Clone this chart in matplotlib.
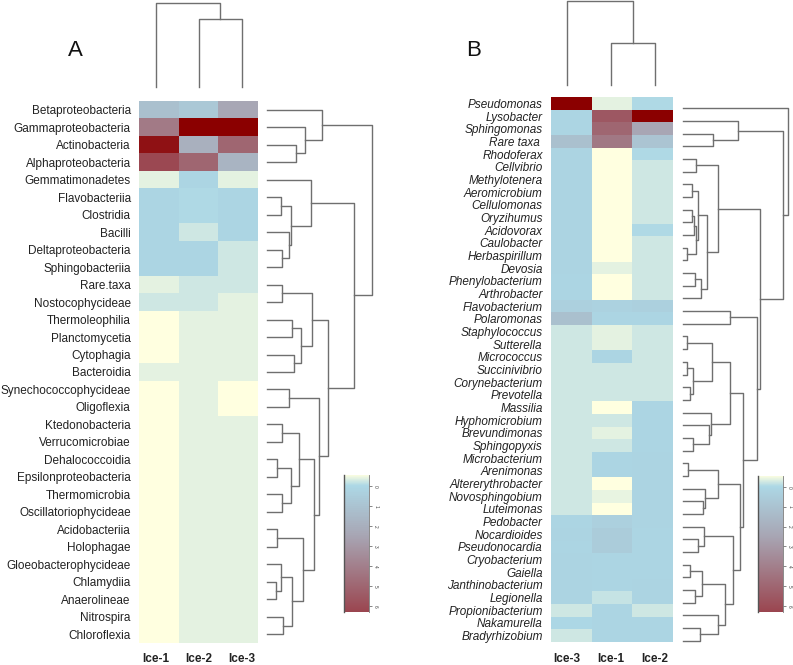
import matplotlib
matplotlib.use('Agg')
import matplotlib.pyplot as plt
import numpy as np
from matplotlib.colors import LinearSegmentedColormap, Normalize
from matplotlib.transforms import blended_transform_factory

plt.rcParams['font.family'] = ['Liberation Sans', 'DejaVu Sans']

W, H = 793, 665
fig = plt.figure(figsize=(W / 100, H / 100), dpi=100)
fig.patch.set_facecolor('white')

LINE_CLR = '#6f6f6f'

# ── Colour scale ────────────────────────────────────────────────
cmap_vals = [-0.55, 0.0, 2.5, 6.3, 7.0]
cmap_cols = ['#FFFFE0', '#ADD8E6', '#A8A6B4', '#9B4650', '#8B0000']
VMIN, VMAX = cmap_vals[0], cmap_vals[-1]
cmap = LinearSegmentedColormap.from_list(
    'ice', [((v - VMIN) / (VMAX - VMIN), c) for v, c in zip(cmap_vals, cmap_cols)])
norm = Normalize(VMIN, VMAX)

# ── Panel A data ────────────────────────────────────────────────
a_cols = ['Ice-1', 'Ice-2', 'Ice-3']
a_rows = ['Betaproteobacteria', 'Gammaproteobacteria', 'Actinobacteria', 'Alphaproteobacteria',
          'Gemmatimonadetes', 'Flavobacteriia', 'Clostridia', 'Bacilli', 'Deltaproteobacteria',
          'Sphingobacteriia', 'Rare.taxa', 'Nostocophycideae', 'Thermoleophilia', 'Planctomycetia',
          'Cytophagia', 'Bacteroidia', 'Synechococcophycideae', 'Oligoflexia', 'Ktedonobacteria',
          'Verrucomicrobiae', 'Dehalococcoidia', 'Epsilonproteobacteria', 'Thermomicrobia',
          'Oscillatoriophycideae', 'Acidobacteriia', 'Holophagae', 'Gloeobacterophycideae',
          'Chlamydiia', 'Anaerolineae', 'Nitrospira', 'Chloroflexia']
a_ice1 = [1.2, 4.2, 6.8, 6.2, -0.37, 0.1, 0.1, 0.1, 0.1, 0.1, -0.37, -0.21, -0.55, -0.55, -0.55,
          -0.37, -0.55, -0.55, -0.55, -0.55, -0.55, -0.55, -0.55, -0.55, -0.55, -0.55, -0.55,
          -0.55, -0.55, -0.55, -0.55]
a_ice2 = [0.8, 7.0, 2.0, 5.0, 0.1, 0.0, 0.0, -0.21, 0.1, 0.1, -0.21, -0.21, -0.37, -0.37, -0.37,
          -0.37, -0.37, -0.37, -0.37, -0.37, -0.37, -0.37, -0.37, -0.37, -0.37, -0.37, -0.37,
          -0.37, -0.37, -0.37, -0.37]
a_ice3 = [2.4, 7.0, 5.0, 1.8, -0.37, 0.1, 0.1, 0.1, -0.21, -0.21, -0.21, -0.37, -0.37, -0.37, -0.37,
          -0.37, -0.55, -0.55, -0.37, -0.37, -0.37, -0.37, -0.37, -0.37, -0.37, -0.37, -0.37,
          -0.37, -0.37, -0.37, -0.37]

# trees: (left, right, height) ; leaves are row / column indices
a_col_tree = (0, (1, 2, 68), 84)
a_row_tree = ((0, (1, (2, 3, 29), 38), 55),
              ((4, ((5, 6, 14), (7, (8, 9, 15), 22), 24), 44),
               (((10, 11, 15), ((12, 13, 25), (14, 15, 27), 34), 45),
                ((16, 17, 22),
                 (((18, 19, 15), ((20, 21, 10), (22, 23, 15), 24), 32),
                  ((24, 25, 10), ((26, (27, 28, 9), 14), (29, 30, 16), 25), 36), 47), 52), 61), 87),
              105)

# ── Panel B data ────────────────────────────────────────────────
b_cols = ['Ice-3', 'Ice-1', 'Ice-2']
b_rows = ['Pseudomonas', 'Lysobacter', 'Sphingomonas', 'Rare taxa ', 'Rhodoferax', 'Cellvibrio',
          'Methylotenera', 'Aeromicrobium', 'Cellulomonas', 'Oryzihumus', 'Acidovorax',
          'Caulobacter', 'Herbaspirillum', 'Devosia', 'Phenylobacterium', 'Arthrobacter',
          'Flavobacterium', 'Polaromonas', 'Staphylococcus', 'Sutterella', 'Micrococcus',
          'Succinivibrio', 'Corynebacterium', 'Prevotella', 'Massilia', 'Hyphomicrobium',
          'Brevundimonas', 'Sphingopyxis', 'Microbacterium', 'Arenimonas', 'Altererythrobacter',
          'Novosphingobium', 'Luteimonas', 'Pedobacter', 'Nocardioides', 'Pseudonocardia',
          'Cryobacterium', 'Gaiella', 'Janthinobacterium', 'Legionella', 'Propionibacterium',
          'Nakamurella', 'Bradyrhizobium']
b_ice3 = [7.0, 0.1, 0.1, 1.2, 0.2, 0.2, 0.2, 0.2, 0.2, 0.2, 0.2, 0.2, 0.2, 0.2, 0.1, 0.1,
          0.4, 1.2, -0.21, -0.21, -0.21, -0.21, -0.21, -0.21, -0.21, -0.21, -0.21, -0.21, -0.21,
          -0.21, -0.21, -0.21, -0.21, 0.1, 0.2, 0.1, 0.2, 0.2, 0.2, 0.2, -0.21, 0.05, -0.21]
b_ice1 = [-0.37, 5.6, 5.0, 4.3, -0.55, -0.55, -0.55, -0.55, -0.55, -0.55, -0.55, -0.55, -0.55,
          -0.37, -0.55, -0.55, 0.3, 0.1, -0.37, -0.37, 0.1, -0.21, -0.21, -0.21, -0.55, -0.21,
          -0.37, -0.21, 0.1, 0.1, -0.55, -0.4, -0.55, 0.4, 0.6, 0.6, 0.1, 0.1, 0.1, -0.15, 0.1,
          0.1, 0.1]
b_ice2 = [0.0, 7.0, 2.5, 1.0, 0.0, -0.21, -0.21, -0.21, -0.21, -0.21, 0.0, -0.21, -0.21, -0.21,
          -0.21, -0.21, 0.4, 0.1, -0.21, -0.21, -0.21, -0.21, -0.21, -0.21, 0.1, 0.1, 0.1, 0.1,
          0.2, 0.2, 0.2, 0.2, 0.2, 0.2, 0.1, 0.1, 0.1, 0.1, 0.2, 0.2, -0.21, 0.1, 0.1]

b_col_tree = (0, (1, 2, 42), 84)
b_row_tree = (0,
              ((1, (2, 3, 30), 55),
               (((4, 5, 13),
                 (((6, 7, 9), (((8, 9, 9), 10, 11), (11, 12, 4), 13), 15),
                  ((13, 14, 12), 15, 18), 24), 35),
                ((16, 17, 47),
                 ((((18, 19, 4), ((20, 21, 4), (22, 23, 7), 10), 29),
                   (24, (25, (26, 27, 10), 26), 28), 47),
                  (((28, 29, 5), (30, (31, 32, 20), 22), 35),
                   ((33, (34, 35, 15), 21),
                    (((36, 37, 7), (38, 39, 12), 19), (40, (41, 42, 17), 35), 42), 50), 57), 60),
                 74), 77), 100),
              105)


# ── Helpers ─────────────────────────────────────────────────────
def add_ax(x0, y0, x1, y1):
    return fig.add_axes([x0 / W, 1 - y1 / H, (x1 - x0) / W, (y1 - y0) / H])


def draw_tree(ax, node, rows):
    if isinstance(node, int):
        return node + 0.5, 0
    left, right, h = node
    pl, hl = draw_tree(ax, left, rows)
    pr, hr = draw_tree(ax, right, rows)
    if rows:
        ax.plot([hl, h, h, hr], [pl, pl, pr, pr], color=LINE_CLR, lw=1.0, clip_on=False)
    else:
        ax.plot([pl, pl, pr, pr], [hl, h, h, hr], color=LINE_CLR, lw=1.0, clip_on=False)
    return (pl + pr) / 2, h


def panel(letter, letter_xy, rows, cols, values, italic,
          heat_box, coltree_box, rowtree_box, col_tree, row_tree, cbar_box):
    data = np.array(values).T
    ax = add_ax(*heat_box)
    ax.imshow(data, cmap=cmap, norm=norm, aspect='auto', interpolation='nearest')
    ax.set_xticks([])
    ax.set_yticks(range(len(rows)))
    ax.set_yticklabels(rows, fontsize=8.5, style='italic' if italic else 'normal', color='#222222')
    ax.tick_params(axis='y', length=0, pad=6)
    for s in ax.spines.values():
        s.set_visible(False)

    # column dendrogram
    axc = add_ax(*coltree_box)
    draw_tree(axc, col_tree, rows=False)
    axc.set_xlim(0, len(cols))
    axc.set_ylim(0, 85)
    axc.axis('off')
    tr = blended_transform_factory(axc.transData, fig.transFigure)
    for i, c in enumerate(cols):
        fig.text(i + 0.5, 1 - 659 / H, c, transform=tr, ha='center', va='center',
                 fontsize=8.5, fontweight='bold', color='#222222')

    # row dendrogram
    axr = add_ax(*rowtree_box)
    draw_tree(axr, row_tree, rows=True)
    axr.set_xlim(0, rowtree_box[2] - rowtree_box[0])
    axr.set_ylim(len(rows), 0)
    axr.axis('off')

    # colour key
    cax = add_ax(*cbar_box)
    lo, hi = -0.55, 6.3
    grad = np.linspace(lo, hi, 300)[:, None]
    cax.imshow(grad, cmap=cmap, norm=norm, aspect='auto', extent=[0, 1, hi, lo])
    cax.set_ylim(hi, lo)
    cax.set_xticks([])
    cax.yaxis.tick_right()
    cax.set_yticks(range(7))
    cax.set_yticklabels([str(i) for i in range(7)], rotation=-90, fontsize=3.5,
                        va='center', color='#444444')
    cax.tick_params(axis='y', length=2, width=0.5, pad=1, color='#555555')
    cax.spines['top'].set_visible(False)
    cax.spines['bottom'].set_visible(False)
    cax.spines['left'].set_color('#555555')
    cax.spines['left'].set_linewidth(1.0)
    cax.spines['right'].set_color('#777777')
    cax.spines['right'].set_linewidth(0.6)

    fig.text(letter_xy[0] / W, 1 - letter_xy[1] / H, letter, fontsize=16,
             ha='center', va='center', color='#111111')


panel('A', (75, 50), a_rows, a_cols, [a_ice1, a_ice2, a_ice3], False,
      (139, 101, 258, 643), (134, 2, 263, 87), (267, 101, 373, 643),
      a_col_tree, a_row_tree, (344, 475, 369, 612))

panel('B', (474, 50), b_rows, b_cols, [b_ice3, b_ice1, b_ice2], True,
      (551, 97, 673, 642), (545, 0, 677, 85), (683, 102, 789, 647),
      b_col_tree, b_row_tree, (758, 476, 783, 612))

fig.savefig('out.png', dpi=100, facecolor='white')
